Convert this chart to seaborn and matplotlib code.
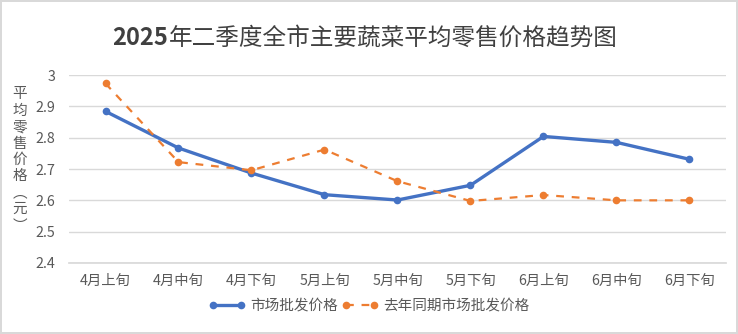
import matplotlib
matplotlib.use("Agg")
import matplotlib.pyplot as plt
import seaborn as sns
import pandas as pd

categories = ["4月上旬", "4月中旬", "4月下旬", "5月上旬", "5月中旬", "5月下旬", "6月上旬", "6月中旬", "6月下旬"]
series_names = ["市场批发价格", "去年同期市场批发价格"]
current_prices = [2.884, 2.767, 2.687, 2.618, 2.601, 2.648, 2.804, 2.785, 2.731]
last_year_prices = [2.973, 2.722, 2.696, 2.762, 2.661, 2.598, 2.617, 2.600, 2.600]
y_ticks = [2.4, 2.5, 2.6, 2.7, 2.8, 2.9, 3.0]
title_year = "2025"
title_rest = "年二季度全市主要蔬菜平均零售价格趋势图"
y_label = "平均零售价格（元）"

sns.set_theme(style="white")
plt.rcParams["font.family"] = ["Noto Sans CJK SC", "DejaVu Sans"]

df = pd.DataFrame({
    "旬": categories * 2,
    "价格": current_prices + last_year_prices,
    "系列": [series_names[0]] * len(categories) + [series_names[1]] * len(categories),
})

fig = plt.figure(figsize=(7.38, 3.34), dpi=100, edgecolor="#d9d9d9", linewidth=1.5)
ax = fig.add_axes([0.0935, 0.2126, 0.8902, 0.5628])

palette = {series_names[0]: "#4472C4", series_names[1]: "#ED7D31"}
sns.lineplot(data=df[df["系列"] == series_names[0]], x="旬", y="价格", color=palette[series_names[0]],
             linewidth=2.4, marker="o", markersize=5.5, markeredgewidth=0, sort=False, ax=ax,
             label=series_names[0])
sns.lineplot(data=df[df["系列"] == series_names[1]], x="旬", y="价格", color=palette[series_names[1]],
             linewidth=1.6, marker="o", markersize=5.5, markeredgewidth=0, sort=False, ax=ax,
             linestyle=(0, (3.5, 3.5)), label=series_names[1])

ax.set_xlim(-0.5, len(categories) - 0.5)
ax.set_ylim(2.4, 3.0)
ax.set_yticks(y_ticks)
ax.set_yticklabels([f"{v:g}" for v in y_ticks])
ax.grid(axis="y", color="#d9d9d9", linewidth=1)
ax.grid(axis="x", visible=False)
for s in ["left", "right", "top"]:
    ax.spines[s].set_visible(False)
ax.spines["bottom"].set_color("#d9d9d9")
ax.tick_params(axis="both", length=0, labelsize=10.3, labelcolor="#595959")
ax.tick_params(axis="x", pad=8)
ax.tick_params(axis="y", pad=10)
ax.set_xlabel("")
ax.set_ylabel("")

vertical_label = "\n".join(y_label.replace("（", "︵").replace("）", "︶"))
fig.text(0.027, 0.521, vertical_label, ha="center", va="center", fontsize=10.5, color="#595959",
         linespacing=1.22)

# Title: bold digits, regular CJK (as in the reference)
t1 = fig.text(0.16, 0.886, title_year, ha="left", va="center", fontsize=17, fontweight="bold", color="#404040")
t2 = fig.text(0.3, 0.886, title_rest, ha="left", va="center", fontsize=17, color="#404040")
fig.canvas.draw()
r = fig.canvas.get_renderer()
w1 = t1.get_window_extent(r).width
w2 = t2.get_window_extent(r).width
W = fig.bbox.width
total = w1 + w2
start = 365 - total / 2
t1.set_x(start / W)
t2.set_x((start + w1) / W)

leg = ax.legend(loc="center", ncol=2, frameon=False, fontsize=10.5,
                numpoints=2, handlelength=2.5, handletextpad=0.3, columnspacing=0.3)
for t in leg.get_texts():
    t.set_color("#595959")
leg.set_bbox_to_anchor((0.5, 1 - 306 / 334), transform=fig.transFigure)

fig.savefig("out.png", dpi=100, edgecolor=fig.get_edgecolor())
